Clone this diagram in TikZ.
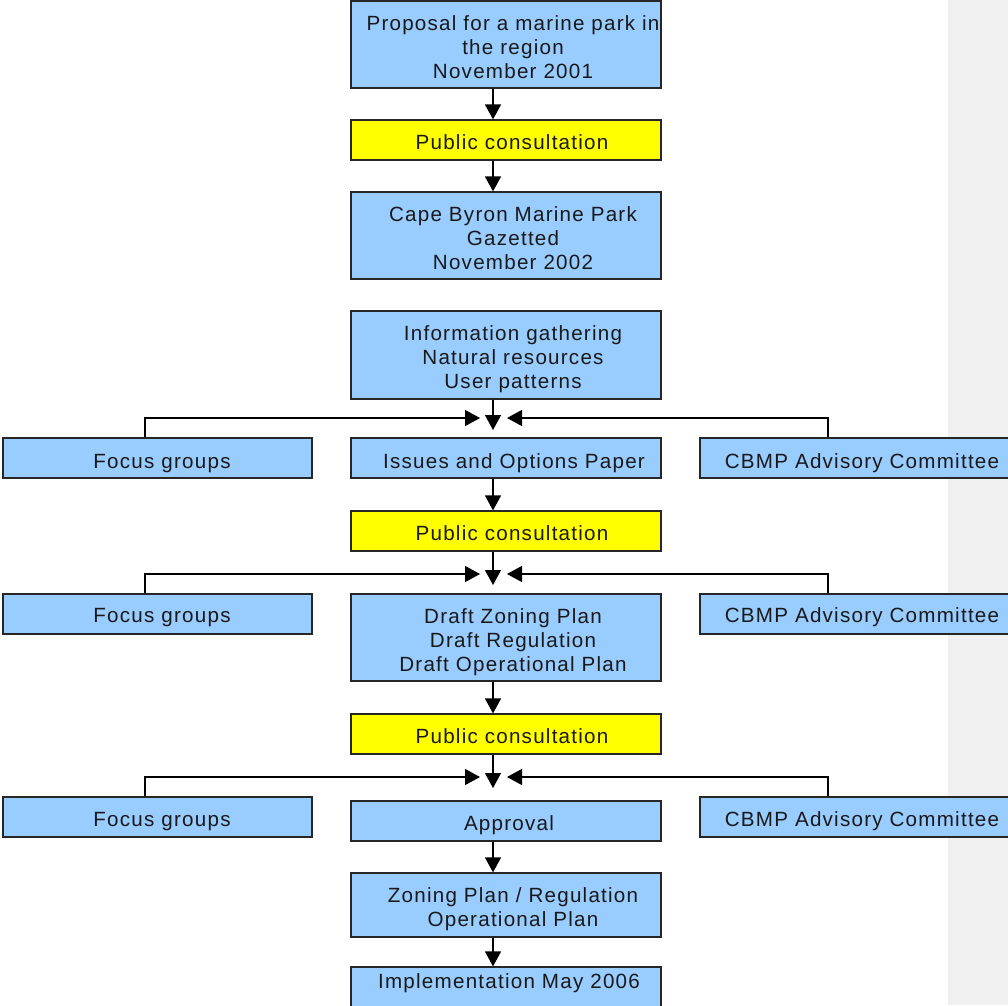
\documentclass[tikz,border=0pt]{standalone}
\usepackage{fontspec}
\setmainfont{Liberation Sans}[LetterSpace=6]
\usetikzlibrary{arrows.meta}
\definecolor{boxblue}{HTML}{99CCFF}
\definecolor{boxyellow}{HTML}{FFFF00}
\definecolor{sidegray}{HTML}{F0F0F0}
\begin{document}
\begin{tikzpicture}[x=1pt,y=-1pt,
  box/.style={rectangle, draw=black!85, line width=1.2pt, fill=boxblue, minimum width=310pt, inner sep=0pt},
  sidebox/.style={box, minimum width=309pt},
  ybox/.style={box, fill=boxyellow},
  txt/.style={font=\fontsize{20.6}{24}\selectfont, align=center, inner sep=0pt, anchor=base, text=black!90},
  arr/.style={line width=1.2pt, -{Triangle[length=15pt,width=16pt]}},
]
\clip (0,0) rectangle (1008,1005);
\useasboundingbox (0,0) rectangle (1008,1005);
\fill[sidegray] (948,0) rectangle (1008,1005);

% centre column
\node[box, minimum height=87pt] (p1) at (506,44.5) {};
\node[ybox, minimum height=40pt] (pc1) at (506,140) {};
\node[box, minimum height=87pt] (cb) at (506,235.5) {};
\node[box, minimum height=88pt] (info) at (506,355) {};
\node[box, minimum height=40pt] (iss) at (506,458) {};
\node[ybox, minimum height=40pt] (pc2) at (506,531) {};
\node[box, minimum height=87pt] (draft) at (506,637.5) {};
\node[ybox, minimum height=40pt] (pc3) at (506,734) {};
\node[box, minimum height=40pt] (appr) at (506,821) {};
\node[box, minimum height=64pt] (zon) at (506,905) {};
\node[box, minimum height=60pt] (impl) at (506,997) {};

% side boxes
\node[sidebox, minimum height=40pt] (fg1) at (157.5,458) {};
\node[sidebox, minimum height=40pt] (fg2) at (157.5,614) {};
\node[sidebox, minimum height=40pt] (fg3) at (157.5,817) {};
\node[box, minimum height=40pt] (cm1) at (855,458) {};
\node[box, minimum height=40pt] (cm2) at (855,614) {};
\node[box, minimum height=40pt] (cm3) at (855,817) {};

% texts
\node[txt] (p1t) at (513,78) {Proposal for a marine park in\\the region\\November 2001};
\node[txt] (pc1t) at (512,149) {Public consultation};
\node[txt] (cbt) at (513,269) {Cape Byron Marine Park\\Gazetted\\November 2002};
\node[txt] (infot) at (513,388) {Information gathering\\Natural resources\\User patterns};
\node[txt] (isst) at (514,468) {Issues and Options Paper};
\node[txt] (pc2t) at (512,540) {Public consultation};
\node[txt] (draftt) at (513,671) {Draft Zoning Plan\\Draft Regulation\\Draft Operational Plan};
\node[txt] (pc3t) at (512,743) {Public consultation};
\node[txt] (apprt) at (509,830) {Approval};
\node[txt] (zont) at (513,926) {Zoning Plan / Regulation\\Operational Plan};
\node[txt] (implt) at (509,988) {Implementation May 2006};
\node[txt] (fg1t) at (162,468) {Focus groups};
\node[txt] (fg2t) at (162,622) {Focus groups};
\node[txt] (fg3t) at (162,826) {Focus groups};
\node[txt] (cm1t) at (862,468) {CBMP Advisory Committee};
\node[txt] (cm2t) at (862,622) {CBMP Advisory Committee};
\node[txt] (cm3t) at (862,826) {CBMP Advisory Committee};

% helper coordinates
\coordinate (ax) at (493,0);
\coordinate (fl) at (145,0);
\coordinate (cr) at (828,0);
\coordinate (l1) at (480,418); \coordinate (r1) at (507,418); \coordinate (t1) at (493,430);
\coordinate (l2) at (480,574); \coordinate (r2) at (507,574); \coordinate (t2) at (493,585);
\coordinate (l3) at (480,777); \coordinate (r3) at (507,777); \coordinate (t3) at (493,788);

% connectors
\draw[arr] (p1.south -| ax) -- (pc1.north -| ax);
\draw[arr] (pc1.south -| ax) -- (cb.north -| ax);
\draw[arr] (info.south -| ax) -- (t1);
\draw[arr] (fg1.north -| fl) |- (l1);
\draw[arr] (cm1.north -| cr) |- (r1);
\draw[arr] (iss.south -| ax) -- (pc2.north -| ax);
\draw[arr] (pc2.south -| ax) -- (t2);
\draw[arr] (fg2.north -| fl) |- (l2);
\draw[arr] (cm2.north -| cr) |- (r2);
\draw[arr] (draft.south -| ax) -- (pc3.north -| ax);
\draw[arr] (pc3.south -| ax) -- (t3);
\draw[arr] (fg3.north -| fl) |- (l3);
\draw[arr] (cm3.north -| cr) |- (r3);
\draw[arr] (appr.south -| ax) -- (zon.north -| ax);
\draw[arr] (zon.south -| ax) -- (impl.north -| ax);
\end{tikzpicture}
\end{document}
